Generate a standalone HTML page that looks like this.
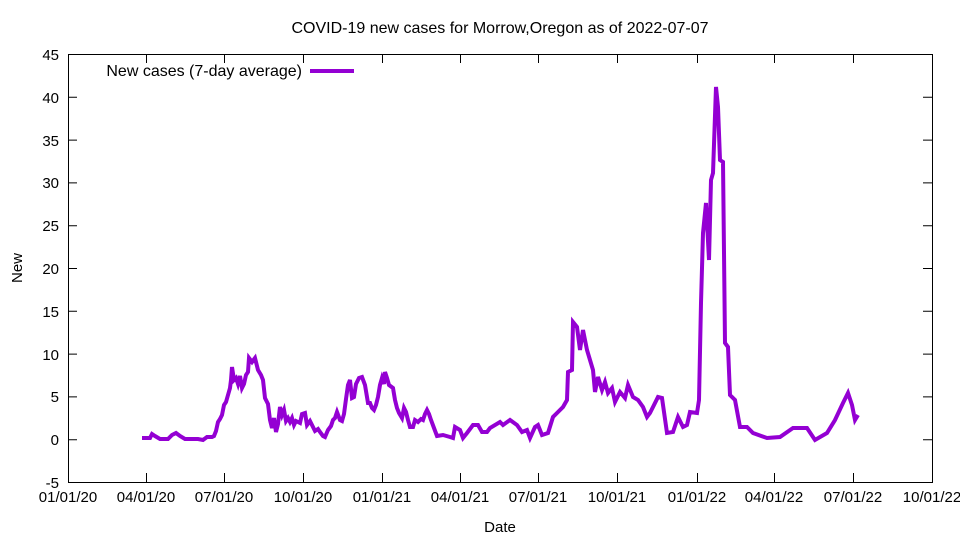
<!DOCTYPE html>
<html><head><meta charset="utf-8"><style>html,body{margin:0;padding:0;background:#fff}</style></head><body>
<svg width="960" height="540" xmlns="http://www.w3.org/2000/svg" font-family="Liberation Sans, sans-serif" font-size="15">
<rect width="960" height="540" fill="#fff"/>
<rect x="68.5" y="54.5" width="864" height="428" fill="none" stroke="#000" stroke-width="1"/>
<g stroke="#000" stroke-width="1">
<path d="M68 54.5h9M932 54.5h-9M68 97.3h9M932 97.3h-9M68 140.1h9M932 140.1h-9M68 182.9h9M932 182.9h-9M68 225.7h9M932 225.7h-9M68 268.5h9M932 268.5h-9M68 311.3h9M932 311.3h-9M68 354.1h9M932 354.1h-9M68 396.9h9M932 396.9h-9M68 439.7h9M932 439.7h-9"/>
<path d="M146.5 482v-9M146.5 54v9M224.5 482v-9M224.5 54v9M303.5 482v-9M303.5 54v9M382.5 482v-9M382.5 54v9M460.5 482v-9M460.5 54v9M538.5 482v-9M538.5 54v9M617.5 482v-9M617.5 54v9M697.5 482v-9M697.5 54v9M774.5 482v-9M774.5 54v9M853.5 482v-9M853.5 54v9"/>
</g>
<g text-anchor="end">
<text x="59" y="60">45</text><text x="59" y="103">40</text><text x="59" y="146">35</text><text x="59" y="188">30</text><text x="59" y="231">25</text><text x="59" y="274">20</text><text x="59" y="317">15</text><text x="59" y="360">10</text><text x="59" y="402">5</text><text x="59" y="445">0</text><text x="59" y="488">-5</text>
</g>
<g text-anchor="middle">
<text x="68" y="502">01/01/20</text><text x="146" y="502">04/01/20</text><text x="224" y="502">07/01/20</text><text x="303" y="502">10/01/20</text><text x="382" y="502">01/01/21</text><text x="460" y="502">04/01/21</text><text x="538" y="502">07/01/21</text><text x="617" y="502">10/01/21</text><text x="697" y="502">01/01/22</text><text x="774" y="502">04/01/22</text><text x="853" y="502">07/01/22</text><text x="932" y="502">10/01/22</text>
<text x="500" y="532">Date</text>
<text x="500" y="33" font-size="16">COVID-19 new cases for Morrow,Oregon as of 2022-07-07</text>
</g>
<text transform="translate(22,268) rotate(-90)" text-anchor="middle">New</text>
<text x="302" y="76" text-anchor="end" font-size="16">New cases (7-day average)</text>
<line x1="310" y1="71" x2="354" y2="71" stroke="#9400d3" stroke-width="4"/>
<polyline fill="none" stroke="#9400d3" stroke-width="4" stroke-linejoin="miter" points="142,438 150,438 152,434 155,436 160,439 168,439 172,435 176,433 180,436 185,439 198,439 203,440 207,437 212,437 214,436 216,431 218,422 220,419 222,415 224,405 226,402 228,395 230,388 231,380 232,367 234,380 236,378 238,384 240,376 242,388 244,384 246,375 248,372 249,358 252,362 255,358 258,370 261,375 263,380 265,398 268,404 270,420 272,428 274,418 276,432 278,424 280,407 282,415 284,410 286,421 288,418 290,422 292,418 294,425 296,421 300,423 302,414 305,413 307,425 310,421 313,427 315,431 318,429 320,432 323,436 325,437 328,430 331,426 333,420 335,418 337,412 340,420 342,421 344,414 346,399 348,385 350,380 352,398 354,397 356,384 359,378 362,377 365,385 368,403 370,403 372,408 374,410 376,405 378,397 380,385 382,378 384,384 385,372 387,378 389,385 393,388 395,400 397,408 399,413 402,418 404,408 406,412 408,420 410,427 413,427 415,420 418,422 421,419 423,420 425,414 427,410 429,414 431,420 434,428 437,436 443,435 450,437 453,438 455,427 460,430 463,438 467,433 473,425 478,425 482,432 487,432 490,428 500,422 503,425 510,420 517,425 522,432 527,430 530,438 535,427 538,425 542,435 548,433 553,417 557,413 560,410 563,407 567,400 568,372 572,370 573,322 577,327 580,350 583,330 587,350 590,360 593,370 595,392 598,377 602,390 605,382 608,393 612,388 615,402 620,392 625,398 628,385 633,397 638,400 643,407 647,417 650,413 653,407 658,397 662,398 667,433 673,432 678,417 683,427 687,425 690,412 697,413 699,400 701,303 703,233 706,203 709,260 711,180 713,173 716,87 718,107 720,160 723,162 725,343 728,347 730,395 735,400 740,427 747,427 753,433 767,438 780,437 793,428 807,428 815,440 827,433 835,420 843,403 848,393 852,405 855,420 858,415"/>
</svg>
</body></html>
